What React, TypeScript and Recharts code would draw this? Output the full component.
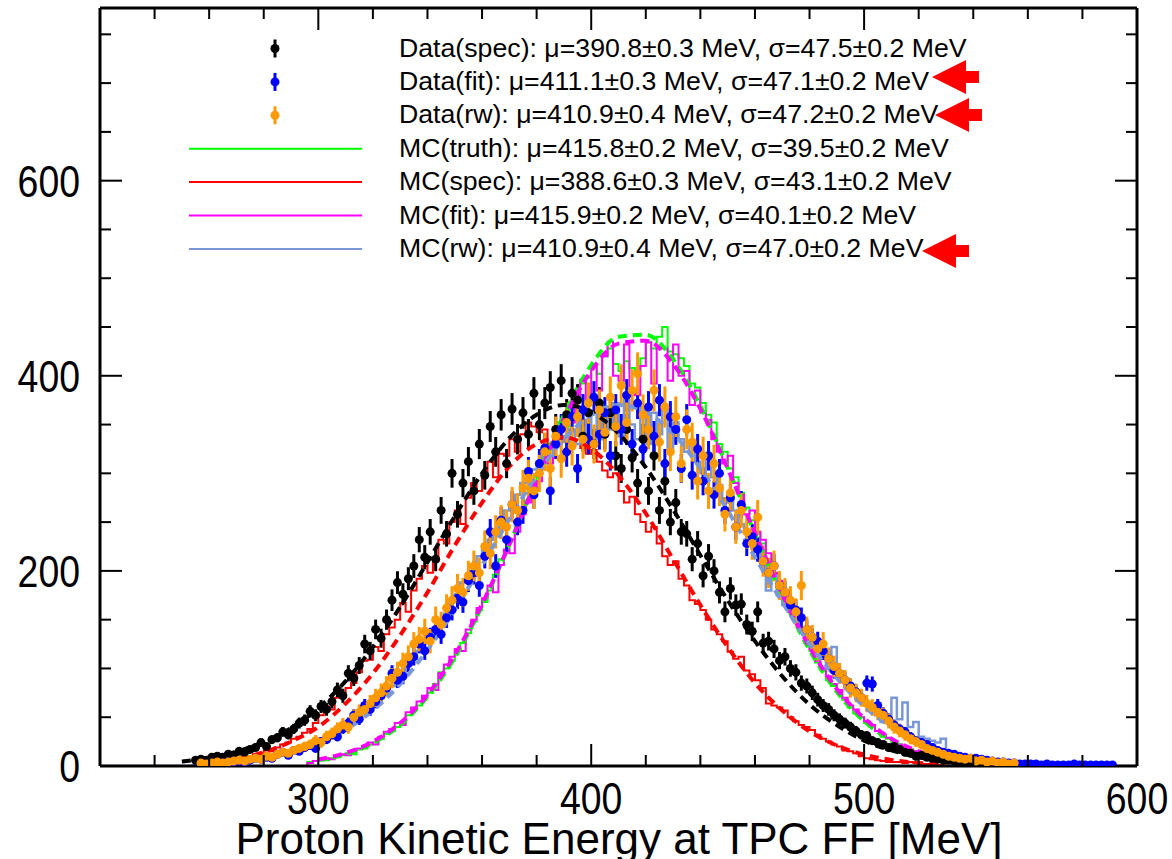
import React from "react";
import { ComposedChart, Line, Scatter, ErrorBar, XAxis, YAxis } from "recharts";

const FONT = "'Liberation Sans', Arial, Helvetica, sans-serif";

const BLACK = "#000000";
const BLUE = "#0000ff";
const ORANGE = "#ff9900";
const GREEN = "#00ff00";
const RED = "#ff0000";
const MAGENTA = "#ff00ff";
const SKY = "#7b98d6";

// axis ticks
const X_TICKS = [240, 260, 280, 300, 320, 340, 360, 380, 400, 420, 440, 460, 480, 500, 520, 540, 560, 580, 600];
const X_MAJOR = [300, 400, 500, 600];
const Y_TICKS = [0, 50, 100, 150, 200, 250, 300, 350, 400, 450, 500, 550, 600, 650, 700, 750];
const Y_MAJOR = [0, 200, 400, 600];

// data, 2 MeV bins, first bin centre given
const dataSpecStart = 255;
const dataSpec = [
  6, 7, 6, 9, 10, 9, 12, 11, 15, 14, 17, 19, 24, 20, 27, 29, 35, 32, 38, 44,
  47, 56, 52, 61, 58, 66, 78, 72, 95, 90, 103, 125, 118, 140, 131, 150, 170, 188, 176, 192,
  205, 232, 214, 240, 212, 262, 238, 300, 258, 290, 312, 282, 330, 298, 348, 322, 360, 310, 366, 335,
  362, 340, 382, 350, 372, 388, 345, 395, 360, 382, 375, 338, 362, 330, 372, 340, 362, 318, 305, 345,
  316, 290, 335, 282, 318, 262, 292, 250, 270, 240, 238, 212, 228, 195, 215, 200, 178, 158, 182, 165,
  166, 145, 138, 158, 126, 128, 120, 108, 112, 100, 96, 85, 82, 75, 68, 62, 58, 52, 48, 44,
  40, 36, 32, 31, 26, 24, 22, 19, 20, 17, 14, 13, 10, 11, 9, 8, 7, 6, 6, 5,
  4, 4, 3, 3, 2, 2, 2, 1, 1, 1,
];

const dataFitStart = 261;
const dataFit = [
  2, 3, 3, 4, 4, 5, 4, 6, 8, 7, 9, 8, 12, 14, 11, 16, 15, 19, 21, 18,
  25, 27, 32, 30, 38, 44, 52, 48, 62, 58, 66, 72, 80, 95, 88, 92, 105, 112, 125, 118,
  132, 140, 135, 152, 160, 172, 168, 190, 198, 185, 215, 240, 205, 252, 232, 268, 250, 262, 302, 278,
  310, 326, 282, 330, 345, 322, 358, 305, 365, 335, 378, 340, 362, 318, 365, 345, 380, 330, 372, 325,
  368, 338, 375, 310, 358, 345, 305, 355, 298, 325, 292, 318, 278, 300, 262, 275, 245, 268, 228, 235,
  222, 210, 198, 205, 185, 178, 165, 160, 152, 140, 132, 128, 118, 110, 98, 95, 88, 82, 76, 70,
  85, 84, 62, 54, 48, 42, 38, 35, 30, 26, 24, 22, 19, 16, 14, 13, 12, 10, 9, 8,
  8, 7, 6, 5, 4, 4, 3, 3, 2, 2, 2, 2, 1, 2, 1, 1, 1, 1, 2, 1,
  1, 1, 1, 1, 1, 1,
];

const dataRwStart = 257;
const dataRw = [
  3, 2, 3, 4, 3, 4, 5, 6, 5, 7, 8, 7, 10, 9, 12, 14, 13, 16, 18, 20,
  22, 26, 24, 30, 33, 38, 42, 40, 50, 55, 58, 64, 70, 75, 82, 90, 96, 105, 112, 125,
  130, 138, 128, 150, 145, 162, 170, 182, 178, 195, 205, 198, 225, 218, 240, 250, 245, 268, 262, 285,
  295, 282, 300, 322, 305, 338, 315, 352, 328, 358, 335, 372, 330, 365, 342, 378, 348, 390, 352, 385,
  402, 360, 345, 385, 332, 368, 322, 358, 310, 345, 332, 292, 318, 282, 310, 285, 258, 280, 245, 262,
  240, 228, 255, 210, 198, 205, 185, 178, 170, 158, 185, 140, 132, 120, 125, 110, 102, 95, 88, 80,
  75, 70, 64, 60, 55, 52, 46, 40, 36, 32, 28, 25, 22, 18, 16, 14, 12, 10, 9, 8,
  7, 8, 5, 6, 4, 5, 3, 4, 2, 3,
];

// MC histograms, 2 MeV bins, first bin low edge given
const mcTruthStart = 296;
const mcTruth = [
  4, 5, 7, 6, 8, 9, 11, 13, 12, 17, 18, 22, 24, 28, 33, 36, 40, 44, 52, 58,
  62, 70, 75, 84, 96, 100, 108, 118, 126, 136, 148, 160, 168, 180, 196, 212, 220, 232, 245, 262,
  272, 280, 300, 310, 326, 340, 352, 348, 372, 380, 392, 398, 410, 402, 420, 428, 412, 405, 415, 408,
  402, 418, 435, 428, 440, 450, 425, 422, 418, 410, 392, 388, 372, 360, 352, 330, 322, 305, 296, 280,
  265, 252, 238, 228, 212, 198, 186, 172, 162, 150, 138, 126, 118, 106, 98, 88, 82, 76, 68, 60,
  54, 50, 44, 40, 36, 30, 28, 26, 22, 19, 16, 15, 13, 11, 10, 8, 7, 6, 5, 5,
  4, 3, 3, 2, 2, 1,
];

const mcSpecStart = 260;
const mcSpec = [
  3, 4, 5, 5, 7, 8, 7, 10, 12, 13, 16, 15, 19, 22, 24, 28, 30, 34, 38, 44,
  52, 61, 58, 70, 74, 80, 85, 96, 108, 109, 122, 118, 135, 142, 150, 167, 158, 180, 192, 205,
  198, 210, 232, 228, 250, 262, 248, 275, 290, 282, 300, 312, 296, 320, 318, 335, 322, 340, 352, 348,
  342, 345, 330, 338, 336, 334, 328, 330, 326, 320, 324, 312, 303, 296, 300, 282, 270, 276, 258, 250,
  240, 245, 228, 215, 206, 210, 192, 185, 170, 166, 160, 150, 140, 135, 128, 117, 110, 112, 98, 94,
  88, 80, 64, 62, 60, 57, 50, 46, 42, 40, 37, 32, 28, 25, 22, 20, 16, 15, 13, 10,
  8, 7, 6, 5, 4, 4, 4, 3, 4, 3, 2, 2, 1, 1, 1,
];

const mcFitStart = 296;
const mcFit = [
  3, 5, 6, 8, 7, 10, 12, 11, 16, 18, 20, 24, 22, 30, 35, 38, 44, 42, 55, 60,
  66, 72, 80, 78, 95, 104, 112, 120, 118, 140, 150, 162, 172, 185, 178, 206, 222, 218, 240, 258,
  270, 285, 292, 318, 310, 330, 348, 360, 352, 375, 396, 372, 410, 385, 420, 435, 400, 395, 432, 382,
  380, 410, 434, 392, 430, 428, 395, 432, 400, 405, 370, 385, 362, 355, 335, 322, 310, 318, 290, 278,
  258, 262, 240, 232, 218, 198, 190, 178, 160, 152, 140, 130, 120, 108, 100, 92, 84, 78, 70, 62,
  58, 50, 46, 42, 36, 32, 29, 25, 22, 20, 17, 15, 13, 11, 10, 8, 7, 6, 5, 4,
  4, 3, 2, 2, 1,
];

const mcRwStart = 254;
const mcRw = [
  1, 2, 2, 3, 3, 3, 4, 4, 5, 5, 6, 6, 8, 9, 10, 11, 12, 14, 15, 16,
  18, 20, 22, 26, 28, 30, 33, 38, 42, 45, 50, 55, 60, 64, 70, 75, 82, 90, 96, 104,
  110, 118, 126, 134, 140, 150, 156, 168, 176, 188, 192, 200, 215, 222, 232, 240, 248, 262, 268, 278,
  290, 298, 304, 312, 320, 318, 330, 338, 332, 345, 330, 355, 340, 362, 335, 368, 345, 372, 338, 375,
  350, 335, 368, 330, 362, 340, 368, 325, 352, 335, 322, 330, 312, 300, 318, 296, 288, 270, 280, 262,
  248, 240, 232, 220, 205, 180, 195, 175, 165, 158, 150, 140, 132, 125, 118, 110, 100, 122, 95, 88,
  82, 75, 68, 62, 58, 52, 45, 50, 70, 48, 65, 40, 45, 30, 28, 26, 24, 28,
];

// gaussian fits, 10 MeV steps
const fitSpecStart = 250;
const fitSpec = [4.6, 8.4, 14.6, 24.4, 38.9, 59.6, 87, 122, 163, 209, 256, 300, 336, 360, 370, 363, 341, 306, 263, 216, 170, 128, 92, 63, 42, 26, 16, 9, 5, 2.7, 1.4, 0.7];
const fitMcSpecStart = 260;
const fitMcSpec = [4.0, 7.7, 14, 25, 40, 64, 95, 134, 178, 226, 270, 307, 330, 337, 325, 298, 259, 212, 165, 122, 85, 57, 35.5, 21, 11.7, 6.3, 3.2, 1.6];
const fitTruthStart = 300;
const fitTruth = [6, 12, 23.5, 42, 71, 111, 164, 227, 295, 360, 411, 440, 442, 417, 369, 306, 238, 174, 119, 76, 46, 26, 14, 7, 3];
const fitMcFitStart = 300;
const fitMcFit = [6.7, 13.4, 25, 44, 73, 114, 166, 227, 293, 356, 405, 433, 436, 412, 366, 305, 239, 176, 122, 79, 49, 28, 15, 7.8, 3.7];
const fitRwStart = 260;
const fitRw = [2.1, 4.1, 7.7, 13.5, 22.9, 37, 57, 84, 119, 160, 206, 253, 298, 335, 360, 370, 363, 341, 305, 262, 214, 168, 125, 90, 61, 40, 25, 15, 8.5, 4.7, 2.5];

const legendData = [
  { label: "Data(spec): μ=390.8±0.3 MeV, σ=47.5±0.2 MeV", color: BLACK, kind: "point" },
  { label: "Data(fit): μ=411.1±0.3 MeV, σ=47.1±0.2 MeV", color: BLUE, kind: "point" },
  { label: "Data(rw): μ=410.9±0.4 MeV, σ=47.2±0.2 MeV", color: ORANGE, kind: "point" },
  { label: "MC(truth): μ=415.8±0.2 MeV, σ=39.5±0.2 MeV", color: GREEN, kind: "line" },
  { label: "MC(spec): μ=388.6±0.3 MeV, σ=43.1±0.2 MeV", color: RED, kind: "line" },
  { label: "MC(fit): μ=415.9±0.2 MeV, σ=40.1±0.2 MeV", color: MAGENTA, kind: "line" },
  { label: "MC(rw): μ=410.9±0.4 MeV, σ=47.0±0.2 MeV", color: SKY, kind: "line" },
];

const points = (start: number, values: number[], k: number) =>
  values.map((y, i) => ({ x: start + 2 * i, y, err: k * Math.sqrt(y) }));

const hist = (start: number, values: number[]) => [
  { x: 220, y: 0 },
  { x: start, y: 0 },
  ...values.map((y, i) => ({ x: start + 2 * i, y })),
  { x: start + 2 * values.length, y: 0 },
  { x: 600, y: 0 },
];

const curve = (start: number, values: number[]) => values.map((y, i) => ({ x: start + 10 * i, y }));

const BottomTick = (p: any) => {
  const v = p.payload.value;
  const major = X_MAJOR.includes(v);
  return (
    <g>
      <line x1={p.x} x2={p.x} y1={p.y} y2={p.y - (major ? 22 : 11)} stroke="#000" strokeWidth={2} />
      {major && (
        <text transform={`translate(${p.x},${p.y + 48}) scale(0.85,1)`} textAnchor="middle" fontSize={44} fontFamily={FONT} fill="#000">
          {v}
        </text>
      )}
    </g>
  );
};

const TopTick = (p: any) => {
  const major = X_MAJOR.includes(p.payload.value);
  return <line x1={p.x} x2={p.x} y1={p.y} y2={p.y + (major ? 22 : 11)} stroke="#000" strokeWidth={2} />;
};

const LeftTick = (p: any) => {
  const v = p.payload.value;
  const major = Y_MAJOR.includes(v);
  return (
    <g>
      <line x1={p.x} x2={p.x + (major ? 22 : 11)} y1={p.y} y2={p.y} stroke="#000" strokeWidth={2} />
      {major && (
        <text transform={`translate(${p.x - 20},${p.y + 16}) scale(0.85,1)`} textAnchor="end" fontSize={44} fontFamily={FONT} fill="#000">
          {v}
        </text>
      )}
    </g>
  );
};

const RightTick = (p: any) => {
  const major = Y_MAJOR.includes(p.payload.value);
  return <line x1={p.x} x2={p.x - (major ? 22 : 11)} y1={p.y} y2={p.y} stroke="#000" strokeWidth={2} />;
};

const dot = (color: string) => (p: any) => <circle cx={p.cx} cy={p.cy} r={4.5} fill={color} />;

const Arrow = ({ tip, cy }: { tip: number; cy: number }) => (
  <polygon
    points={`${tip},${cy} ${tip + 34},${cy - 17} ${tip + 34},${cy - 6} ${tip + 47},${cy - 6} ${tip + 47},${cy + 6} ${tip + 34},${cy + 6} ${tip + 34},${cy + 17}`}
    fill={RED}
  />
);

const ARROWS = [
  { tip: 932, cy: 77 },
  { tip: 935, cy: 115 },
  { tip: 922, cy: 251 },
];

export default function App() {
  const axisLine = { stroke: "#000", strokeWidth: 3 };
  return (
    <div style={{ position: "absolute", left: 0, top: 0, width: 1172, height: 859, background: "#fff" }}>
      <ComposedChart width={1172} height={859} margin={{ top: 7, right: 34, bottom: 0, left: 0 }}>
        <XAxis
          dataKey="x"
          type="number"
          domain={[220, 600]}
          allowDataOverflow
          ticks={X_TICKS}
          interval={0}
          height={93}
          tickSize={0}
          tickMargin={0}
          tickLine={false}
          axisLine={axisLine}
          tick={BottomTick}
        />
        <XAxis
          xAxisId="top"
          orientation="top"
          dataKey="x"
          type="number"
          domain={[220, 600]}
          allowDataOverflow
          ticks={X_TICKS}
          interval={0}
          height={1}
          tickSize={0}
          tickMargin={0}
          tickLine={false}
          axisLine={axisLine}
          tick={TopTick}
        />
        <YAxis
          type="number"
          domain={[0, 777]}
          allowDataOverflow
          ticks={Y_TICKS}
          interval={0}
          width={100}
          tickSize={0}
          tickMargin={0}
          tickLine={false}
          axisLine={axisLine}
          tick={LeftTick}
        />
        <YAxis
          yAxisId="right"
          orientation="right"
          type="number"
          domain={[0, 777]}
          allowDataOverflow
          ticks={Y_TICKS}
          interval={0}
          width={1}
          tickSize={0}
          tickMargin={0}
          tickLine={false}
          axisLine={axisLine}
          tick={RightTick}
        />

        <Line data={hist(mcTruthStart, mcTruth)} dataKey="y" type="stepAfter" stroke={GREEN} strokeWidth={2} dot={false} isAnimationActive={false} />
        <Line data={hist(mcSpecStart, mcSpec)} dataKey="y" type="stepAfter" stroke={RED} strokeWidth={2} dot={false} isAnimationActive={false} />
        <Line data={hist(mcFitStart, mcFit)} dataKey="y" type="stepAfter" stroke={MAGENTA} strokeWidth={2} dot={false} isAnimationActive={false} />
        <Line data={hist(mcRwStart, mcRw)} dataKey="y" type="stepAfter" stroke={SKY} strokeWidth={2.5} dot={false} isAnimationActive={false} />

        <Scatter data={points(dataSpecStart, dataSpec, 0.85)} dataKey="y" shape={dot(BLACK)} isAnimationActive={false}>
          <ErrorBar dataKey="err" direction="y" width={0} stroke={BLACK} strokeWidth={3} />
        </Scatter>
        <Scatter data={points(dataFitStart, dataFit, 0.85)} dataKey="y" shape={dot(BLUE)} isAnimationActive={false}>
          <ErrorBar dataKey="err" direction="y" width={0} stroke={BLUE} strokeWidth={3} />
        </Scatter>
        <Scatter data={points(dataRwStart, dataRw, 1.1)} dataKey="y" shape={dot(ORANGE)} isAnimationActive={false}>
          <ErrorBar dataKey="err" direction="y" width={0} stroke={ORANGE} strokeWidth={3} />
        </Scatter>

        <Line data={curve(fitTruthStart, fitTruth)} dataKey="y" type="monotone" stroke={GREEN} strokeWidth={4} strokeDasharray="9 6" dot={false} isAnimationActive={false} />
        <Line data={curve(fitMcFitStart, fitMcFit)} dataKey="y" type="monotone" stroke={MAGENTA} strokeWidth={4} strokeDasharray="9 6" dot={false} isAnimationActive={false} />
        <Line data={curve(fitMcSpecStart, fitMcSpec)} dataKey="y" type="monotone" stroke={RED} strokeWidth={4} strokeDasharray="9 6" dot={false} isAnimationActive={false} />
        <Line data={curve(fitSpecStart, fitSpec)} dataKey="y" type="monotone" stroke={BLACK} strokeWidth={4} strokeDasharray="9 6" dot={false} isAnimationActive={false} />
        <Line data={curve(fitRwStart, fitRw)} dataKey="y" type="monotone" stroke={SKY} strokeWidth={4} strokeDasharray="9 6" dot={false} isAnimationActive={false} />
      </ComposedChart>

      <svg width={1172} height={859} style={{ position: "absolute", left: 0, top: 0, pointerEvents: "none" }}>
        {legendData.map((d, i) => {
          const base = 56.5 + i * 33.4;
          const cy = base - 8;
          return (
            <g key={d.label}>
              {d.kind === "point" ? (
                <g>
                  <line x1={275} x2={275} y1={cy - 9} y2={cy + 9} stroke={d.color} strokeWidth={3} />
                  <circle cx={275} cy={cy} r={4.5} fill={d.color} />
                </g>
              ) : (
                <line x1={189} x2={362} y1={cy} y2={cy} stroke={d.color} strokeWidth={2} />
              )}
              <text x={399} y={base} fontSize={26.7} fontFamily={FONT} fill="#000">
                {d.label}
              </text>
            </g>
          );
        })}
        {ARROWS.map((a) => (
          <Arrow key={a.cy} tip={a.tip} cy={a.cy} />
        ))}
        <text x={619} y={854} textAnchor="middle" fontSize={44} fontFamily={FONT} fill="#000">
          Proton Kinetic Energy at TPC FF [MeV]
        </text>
      </svg>
    </div>
  );
}
